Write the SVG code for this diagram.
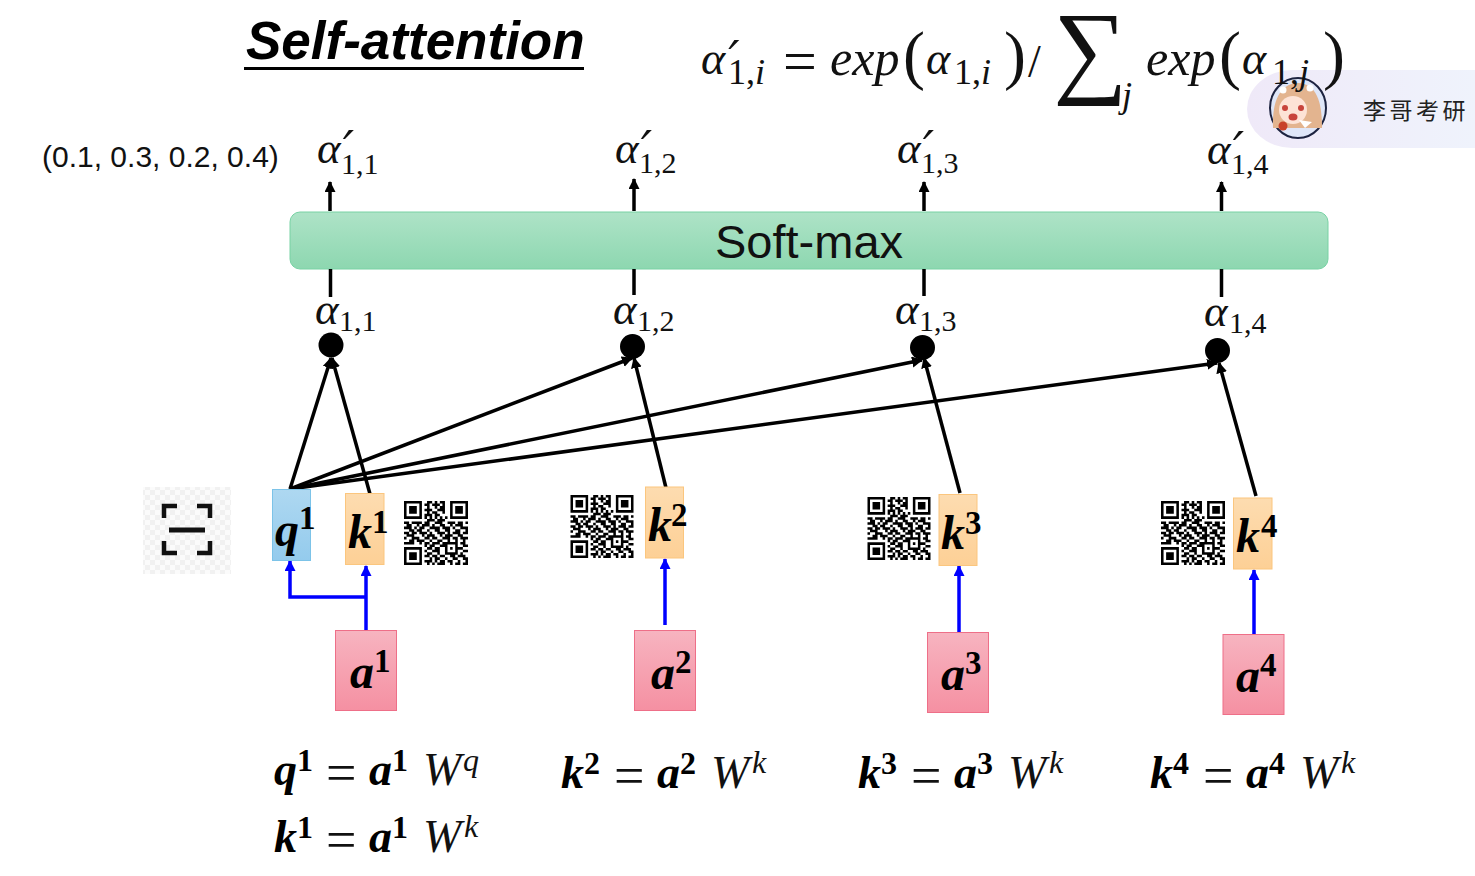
<svg xmlns="http://www.w3.org/2000/svg" width="1475" height="876" viewBox="0 0 1475 876">
<style>
.m{font-family:"Liberation Serif","DejaVu Serif",serif;font-style:italic;fill:#111}
.a{font-size:45px}.s{font-size:30px;font-style:normal}
.p{font-family:"DejaVu Sans",sans-serif;font-style:italic;font-size:50px;fill:#111}
.b{font-family:"Liberation Serif","DejaVu Serif",serif;font-style:italic;font-weight:bold;font-size:48px;fill:#000}
.u{font-family:"Liberation Serif","DejaVu Serif",serif;font-weight:bold;font-size:33px;fill:#000}
.eb{font-family:"Liberation Serif",serif;font-style:italic;font-weight:bold;font-size:46px;fill:#000}
.eu{font-family:"Liberation Serif",serif;font-weight:bold;font-size:32px;fill:#000}
.en{font-family:"Liberation Serif",serif;font-size:60px;fill:#111}
.ei{font-family:"Liberation Serif",serif;font-style:italic;font-size:46px;fill:#111}
.es{font-family:"Liberation Serif",serif;font-style:italic;font-size:32px;fill:#111}
.x{font-family:"Liberation Serif",serif;font-style:italic;font-size:50px;fill:#111}
.sb{font-family:"Liberation Serif",serif;font-size:36px;fill:#111}
.pa{font-family:"Liberation Serif",serif;font-size:66px;fill:#111}
.bk{stroke:#000;stroke-width:3.500;fill:none}
.bl{stroke:#00f;stroke-width:3.500;fill:none}
.q{fill:url(#gq);stroke:#7cc3e8;stroke-width:1}
.k{fill:url(#gk);stroke:#fbc67e;stroke-width:1}
.r{fill:url(#gr);stroke:#ee6f88;stroke-width:1}
</style>
<defs>
<linearGradient id="gq" x1="0" y1="0" x2="0" y2="1"><stop offset="0" stop-color="#aed8f1"/><stop offset="1" stop-color="#94cbed"/></linearGradient>
<linearGradient id="gk" x1="0" y1="0" x2="0" y2="1"><stop offset="0" stop-color="#fddcb0"/><stop offset="1" stop-color="#fdd096"/></linearGradient>
<linearGradient id="gr" x1="0" y1="0" x2="0" y2="1"><stop offset="0" stop-color="#f7b4c0"/><stop offset="1" stop-color="#f590a2"/></linearGradient>
<linearGradient id="gg" x1="0" y1="0" x2="0" y2="1"><stop offset="0" stop-color="#aee3c7"/><stop offset="1" stop-color="#8dd7b0"/></linearGradient>
<linearGradient id="gw" x1="0" y1="0" x2="1" y2="0"><stop offset="0" stop-color="#efe9f8"/><stop offset="1" stop-color="#eff3fc"/></linearGradient>
<marker id="ab" markerWidth="12" markerHeight="12" refX="10" refY="5.500" orient="auto" markerUnits="userSpaceOnUse"><path d="M0 0L11 5.500L0 11z" fill="#000"/></marker>
<marker id="ac" markerWidth="12" markerHeight="12" refX="10" refY="5.500" orient="auto" markerUnits="userSpaceOnUse"><path d="M0 0L11 5.500L0 11z" fill="#00f"/></marker>
<pattern id="chk" width="10" height="10" patternUnits="userSpaceOnUse"><rect width="10" height="10" fill="#fbfbfb"/><rect width="5" height="5" fill="#f1f1f1"/><rect x="5" y="5" width="5" height="5" fill="#f1f1f1"/></pattern>
<symbol id="qr" viewBox="0 0 25 25">
<path fill="none" stroke="#000" stroke-width="1" d="M0 .5h7M9 .5h2M12 .5h1M14 .5h2M18 .5h7M0 1.500h1M6 1.500h1M8 1.500h2M11 1.500h3M15 1.500h1M18 1.500h1M24 1.500h1M0 2.500h1M2 2.500h3M6 2.500h1M9 2.500h1M12 2.500h1M14 2.500h2M18 2.500h1M20 2.500h3M24 2.500h1M0 3.500h1M2 3.500h3M6 3.500h1M8 3.500h3M13 3.500h3M18 3.500h1M20 3.500h3M24 3.500h1M0 4.500h1M2 4.500h3M6 4.500h1M9 4.500h1M11 4.500h2M15 4.500h1M18 4.500h1M20 4.500h3M24 4.500h1M0 5.500h1M6 5.500h1M8 5.500h3M12 5.500h2M18 5.500h1M24 5.500h1M0 6.500h7M8 6.500h1M10 6.500h1M12 6.500h1M14 6.500h1M16 6.500h1M18 6.500h7M9 7.500h3M13 7.500h3M0 8.500h2M3 8.500h4M8 8.500h2M12 8.500h3M17 8.500h3M21 8.500h2M24 8.500h1M1 9.500h2M5 9.500h1M7 9.500h3M11 9.500h1M14 9.500h2M18 9.500h1M20 9.500h3M0 10.500h3M4 10.500h1M6 10.500h2M10 10.500h4M15 10.500h3M19 10.500h1M22 10.500h3M2 11.500h2M5 11.500h2M9 11.500h1M12 11.500h2M16 11.500h2M20 11.500h2M24 11.500h1M0 12.500h2M3 12.500h2M6 12.500h3M10 12.500h1M13 12.500h3M17 12.500h1M19 12.500h3M23 12.500h2M1 13.500h3M7 13.500h1M9 13.500h3M14 13.500h1M16 13.500h3M21 13.500h2M0 14.500h1M3 14.500h3M8 14.500h2M11 14.500h2M15 14.500h3M19 14.500h2M22 14.500h3M2 15.500h2M5 15.500h3M10 15.500h1M13 15.500h2M17 15.500h1M20 15.500h1M23 15.500h1M0 16.500h4M6 16.500h1M8 16.500h2M11 16.500h3M15 16.500h6M22 16.500h2M8 17.500h1M10 17.500h2M14 17.500h2M16 17.500h1M20 17.500h1M23 17.500h2M0 18.500h7M9 18.500h2M12 18.500h2M16 18.500h1M18 18.500h1M20 18.500h3M0 19.500h1M6 19.500h1M8 19.500h1M11 19.500h3M16 19.500h1M20 19.500h1M23 19.500h2M0 20.500h1M2 20.500h3M6 20.500h1M9 20.500h2M13 20.500h1M16 20.500h5M22 20.500h1M0 21.500h1M2 21.500h3M6 21.500h1M8 21.500h2M11 21.500h2M14 21.500h2M18 21.500h2M21 21.500h3M0 22.500h1M2 22.500h3M6 22.500h1M10 22.500h1M12 22.500h2M16 22.500h1M19 22.500h2M23 22.500h2M0 23.500h1M6 23.500h1M8 23.500h3M12 23.500h1M14 23.500h2M17 23.500h2M21 23.500h1M24 23.500h1M0 24.500h7M9 24.500h1M11 24.500h1M13 24.500h3M18 24.500h1M20 24.500h2M23 24.500h2"/>
</symbol>
</defs>

<g id="watermark">
<path d="M1475 70H1292a45 39 0 0 0 0 78H1475z" fill="url(#gw)"/>
<text x="1363" y="119" font-family="'Noto Sans CJK SC',sans-serif" font-size="23" letter-spacing="3.500" fill="#222">李哥考研</text>
<g id="avatar">
<ellipse cx="1298" cy="108" rx="28" ry="30" fill="#dfe6f8" stroke="#1d2340" stroke-width="2"/>
<path d="M1273 128C1272 100 1280 84 1298 83C1316 84 1322 100 1322 128z" fill="#e3b48f"/>
<ellipse cx="1293" cy="110" rx="14" ry="14" fill="#fde3d6"/>
<path d="M1305 128L1299 120L1312 122z" fill="#fff"/>
<circle cx="1285" cy="108" r="3" fill="#c8443c"/><circle cx="1301" cy="108" r="3" fill="#c8443c"/>
<ellipse cx="1293" cy="117" rx="4.500" ry="3.500" fill="#c8443c"/>
<circle cx="1283" cy="126" r="4.500" fill="#c8432a"/>
<circle cx="1283" cy="90" r="3.500" fill="#fff"/><circle cx="1310" cy="88" r="3.500" fill="#fff"/>
</g>
</g>

<g id="title">
<text x="246" y="59" font-family="'Liberation Sans',Arial,sans-serif" font-weight="bold" font-style="italic" font-size="53" fill="#000">Self-attention</text>
<line x1="244" y1="68.500" x2="584" y2="68.500" stroke="#000" stroke-width="3"/>
</g>

<g id="equation">
<text class="ei" x="701" y="74">α<tspan class="p" dy="2" dx="3">′</tspan></text>
<text class="sb" x="728" y="84">1,<tspan font-style="italic">i</tspan></text>
<text class="en" x="783" y="81">=</text>
<text class="x" x="830" y="75">exp</text>
<text class="pa" x="903" y="77">(</text>
<text class="ei" x="926" y="74">α</text>
<text class="sb" x="954" y="84">1,<tspan font-style="italic">i</tspan></text>
<text class="pa" x="1004" y="77">)</text>
<text class="ei" x="1028" y="77" style="font-style:normal">/</text>
<text x="1053" y="84" font-family="'Liberation Serif',serif" font-size="104" fill="#111">∑</text>
<text class="sb" x="1122" y="107" style="font-style:italic">j</text>
<text class="x" x="1146" y="75">exp</text>
<text class="pa" x="1219" y="77">(</text>
<text class="ei" x="1242" y="74">α</text>
<text class="sb" x="1272" y="84">1,<tspan font-style="italic">j</tspan></text>
<text class="pa" x="1323" y="77">)</text>
</g>

<text id="vector" x="42" y="167" font-family="'Liberation Sans',Arial,sans-serif" font-size="30" fill="#111">(0.1, 0.3, 0.2, 0.4)</text>

<g id="softmax">
<rect x="290" y="212" width="1038" height="57" rx="10" fill="url(#gg)" stroke="#78d2a4" stroke-width="1"/>
<text x="809" y="258" text-anchor="middle" font-family="'Liberation Sans',Arial,sans-serif" font-size="47" fill="#111">Soft-max</text>
</g>

<g id="connectors">
<g class="bk">
<path d="M330 211V182" marker-end="url(#ab)"/><path d="M634 211V179" marker-end="url(#ab)"/><path d="M924 211V182" marker-end="url(#ab)"/><path d="M1221.500 211V182" marker-end="url(#ab)"/>
<path d="M330.500 269V297M634 269V295M924 269V296M1221.500 269V297"/>
<path d="M290 489L331 358" marker-end="url(#ab)"/>
<path d="M370 494L332 358" marker-end="url(#ab)"/>
<path d="M290 489L632 358" marker-end="url(#ab)"/>
<path d="M290 489L922 360" marker-end="url(#ab)"/>
<path d="M290 489L1217 363" marker-end="url(#ab)"/>
<path d="M667 492L634 358" marker-end="url(#ab)"/>
<path d="M960 493L924 358" marker-end="url(#ab)"/>
<path d="M1256 496L1219 363" marker-end="url(#ab)"/>
</g>
<g class="bl">
<path d="M366 630V566" marker-end="url(#ac)"/>
<path d="M366 597H290V561" marker-end="url(#ac)"/>
<path d="M665 625V559" marker-end="url(#ac)"/>
<path d="M959 632V566" marker-end="url(#ac)"/>
<path d="M1254 636V570" marker-end="url(#ac)"/>
</g>
</g>

<g id="alpha-out-1"><text class="m a" x="317" y="163">α<tspan class="p" dy="3" dx="2">′</tspan></text><text class="m s" x="341" y="174">1,1</text></g>
<g id="alpha-out-2"><text class="m a" x="615" y="163">α<tspan class="p" dy="3" dx="2">′</tspan></text><text class="m s" x="639" y="173">1,2</text></g>
<g id="alpha-out-3"><text class="m a" x="897" y="163">α<tspan class="p" dy="3" dx="2">′</tspan></text><text class="m s" x="921" y="173">1,3</text></g>
<g id="alpha-out-4"><text class="m a" x="1207" y="164">α<tspan class="p" dy="3" dx="2">′</tspan></text><text class="m s" x="1231" y="174">1,4</text></g>

<g id="alpha-1"><circle cx="331" cy="345" r="12.500"/><text class="m a" x="315" y="324">α</text><text class="m s" x="339" y="331">1,1</text></g>
<g id="alpha-2"><circle cx="632.500" cy="346.500" r="12.500"/><text class="m a" x="613" y="324">α</text><text class="m s" x="637" y="331">1,2</text></g>
<g id="alpha-3"><circle cx="922.500" cy="347.500" r="12.500"/><text class="m a" x="895" y="324">α</text><text class="m s" x="919" y="331">1,3</text></g>
<g id="alpha-4"><circle cx="1217.500" cy="350.500" r="12.500"/><text class="m a" x="1204" y="326">α</text><text class="m s" x="1229" y="333">1,4</text></g>

<g id="scan-icon">
<rect x="143" y="487" width="88" height="87" fill="url(#chk)"/>
<path d="M164 518V506H177M197 506H210V518M164 541V553H177M197 553H210V541" fill="none" stroke="#111" stroke-width="4.500"/>
<path d="M169 530H205" stroke="#111" stroke-width="5"/>
</g>

<g id="q1"><rect class="q" x="272.500" y="489.500" width="38" height="71"/><text class="b" x="275" y="546">q</text><text class="u" x="299" y="529">1</text></g>
<g id="k1"><rect class="k" x="345.500" y="493.500" width="38.500" height="71"/><text class="b" x="348" y="548">k</text><text class="u" x="372" y="533">1</text></g>
<use id="qr1" href="#qr" x="404" y="501" width="64" height="64"/>
<g id="k2"><rect class="k" x="645.500" y="487" width="38" height="71"/><text class="b" x="648" y="541">k</text><text class="u" x="671" y="526">2</text></g>
<use id="qr2" href="#qr" x="570" y="495" width="64" height="63"/>
<g id="k3"><rect class="k" x="939" y="494.500" width="38" height="71"/><text class="b" x="941" y="549">k</text><text class="u" x="965" y="534">3</text></g>
<use id="qr3" href="#qr" x="867" y="497" width="64" height="63"/>
<g id="k4"><rect class="k" x="1233.500" y="498" width="38.500" height="71"/><text class="b" x="1236" y="552">k</text><text class="u" x="1261" y="537">4</text></g>
<use id="qr4" href="#qr" x="1161" y="501" width="64" height="64"/>

<g id="a1"><rect class="r" x="335.500" y="630.500" width="61" height="80"/><text class="b" x="350" y="688">a</text><text class="u" x="374" y="672">1</text></g>
<g id="a2"><rect class="r" x="634.500" y="630.500" width="61" height="80"/><text class="b" x="651" y="689">a</text><text class="u" x="675" y="673">2</text></g>
<g id="a3"><rect class="r" x="927.500" y="632.500" width="61" height="80"/><text class="b" x="941" y="690">a</text><text class="u" x="965" y="674">3</text></g>
<g id="a4"><rect class="r" x="1223" y="634.500" width="61" height="80"/><text class="b" x="1236" y="692">a</text><text class="u" x="1260" y="676">4</text></g>

<g id="formula-q1"><text class="eb" x="274" y="785">q</text><text class="eu" x="297" y="771">1</text><text class="en" x="326" y="791" style="font-size:54px">=</text><text class="eb" x="369" y="785">a</text><text class="eu" x="392" y="771">1</text><text class="ei" x="423" y="785">W</text><text class="es" x="463" y="771">q</text></g>
<g id="formula-k1"><text class="eb" x="274" y="852">k</text><text class="eu" x="297" y="838">1</text><text class="en" x="326" y="858" style="font-size:54px">=</text><text class="eb" x="369" y="852">a</text><text class="eu" x="392" y="838">1</text><text class="ei" x="423" y="852">W</text><text class="es" x="464" y="837">k</text></g>
<g id="formula-k2"><text class="eb" x="561" y="788">k</text><text class="eu" x="584" y="774">2</text><text class="en" x="614" y="794" style="font-size:54px">=</text><text class="eb" x="657" y="788">a</text><text class="eu" x="680" y="774">2</text><text class="ei" x="711" y="788">W</text><text class="es" x="752" y="773">k</text></g>
<g id="formula-k3"><text class="eb" x="858" y="788">k</text><text class="eu" x="881" y="774">3</text><text class="en" x="911" y="794" style="font-size:54px">=</text><text class="eb" x="954" y="788">a</text><text class="eu" x="977" y="774">3</text><text class="ei" x="1008" y="788">W</text><text class="es" x="1049" y="773">k</text></g>
<g id="formula-k4"><text class="eb" x="1150" y="788">k</text><text class="eu" x="1173" y="774">4</text><text class="en" x="1203" y="794" style="font-size:54px">=</text><text class="eb" x="1246" y="788">a</text><text class="eu" x="1269" y="774">4</text><text class="ei" x="1300" y="788">W</text><text class="es" x="1341" y="773">k</text></g>
</svg>
